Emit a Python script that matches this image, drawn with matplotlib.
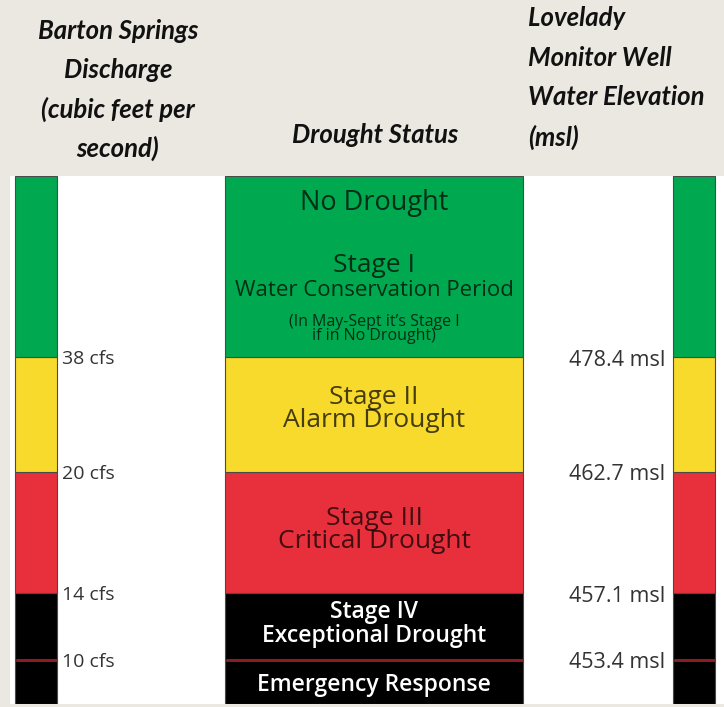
import numpy as np
import matplotlib.pyplot as plt

# band data (top to bottom), heights on the schematic scale
band_names = ['No Drought / Stage I', 'Stage II', 'Stage III', 'Stage IV', 'Emergency Response']
band_heights = [181, 115, 121, 67, 44]
band_colors = ['#00a94f', '#f7da2c', '#e8303d', '#000000', '#000000']

# thresholds at the band boundaries (top to bottom)
cfs_labels = ['38 cfs', '20 cfs', '14 cfs', '10 cfs']
msl_labels = ['478.4 msl', '462.7 msl', '457.1 msl', '453.4 msl']

left_header = ['Barton Springs', 'Discharge', '(cubic feet per', 'second)']
mid_header = 'Drought Status'
right_header = ['Lovelady', 'Monitor Well', 'Water Elevation', '(msl)']

W, H = 724, 707
fig = plt.figure(figsize=(W / 100, H / 100), dpi=100, facecolor='#ebe7e1')

FONT = 'Open Sans'
HFONT = 'Lato'

# panel axes: x in pixels, y in schematic units (0 = bottom of panel)
total = sum(band_heights)
ax = fig.add_axes([10 / W, 3 / H, (W - 10) / W, total / H])
ax.set_xlim(10, W)
ax.set_ylim(0, total)
ax.axis('off')
ax.add_patch(plt.Rectangle((10, 0), W - 10, total, facecolor='white', edgecolor='none', zorder=0))

heights = np.array(band_heights[::-1])
colors = band_colors[::-1]
bottoms = np.concatenate([[0], np.cumsum(heights)[:-1]])
edges = np.cumsum(heights)[:-1]  # boundary levels, bottom to top

columns = [(36, 42), (374, 298), (694, 42)]  # (center x, width)
for cx, w in columns:
    ax.bar([cx] * len(heights), heights, width=w, bottom=bottoms, color=colors,
           edgecolor='#4a4a4a', linewidth=0.8, zorder=2)
    # dark red line between Stage IV and Emergency Response
    ax.hlines(edges[0], cx - w / 2 + 0.5, cx + w / 2 - 0.5, color='#8c1c22', lw=2.2, zorder=3)

# threshold labels
for lvl, lab in zip(edges[::-1], cfs_labels):
    ax.text(62, lvl - 2, lab, ha='left', va='center', fontsize=14,
            family=FONT, color='#333333', zorder=4)
for lvl, lab in zip(edges[::-1], msl_labels):
    ax.text(665, lvl - 3, lab, ha='right', va='center', fontsize=15.5,
            family=FONT, color='#333333', zorder=4)

# center band text
cx = 374
dark = dict(color='black', alpha=0.72, family=FONT, ha='center', va='center', zorder=4)
ax.text(cx, 501, 'No Drought', fontsize=19.5, **dark)
ax.text(cx, 438, 'Stage I', fontsize=19, **dark)
ax.text(cx, 413, 'Water Conservation Period', fontsize=16, **dark)
ax.text(cx, 375, "(In May-Sept it\u2019s Stage I\nif in No Drought)", fontsize=11.5,
        linespacing=0.9, **dark)
ax.text(cx, 295, 'Stage II\nAlarm Drought', fontsize=19, linespacing=0.92, **dark)
ax.text(cx, 174, 'Stage III\nCritical Drought', fontsize=19, linespacing=0.92, **dark)
light = dict(color='white', family=FONT, ha='center', va='center', weight='semibold', zorder=4)
ax.text(cx, 80, 'Stage IV\nExceptional Drought', fontsize=16.5, linespacing=1.0, **light)
ax.text(cx, 19, 'Emergency Response', fontsize=16.5, **light)

# headers (figure pixel positions)
hstyle = dict(family=HFONT, style='italic', weight='bold', fontsize=18.5, color='#111111', va='center')
for i, line in enumerate(left_header):
    fig.text(118 / W, 1 - (31 + 39 * i) / H, line, ha='center', **hstyle)
fig.text(375 / W, 1 - 135 / H, mid_header, ha='center', **hstyle)
for i, line in enumerate(right_header):
    fig.text(528 / W, 1 - (18 + 39.7 * i) / H, line, ha='left', **hstyle)

fig.savefig('out.png', dpi=100, facecolor=fig.get_facecolor())
